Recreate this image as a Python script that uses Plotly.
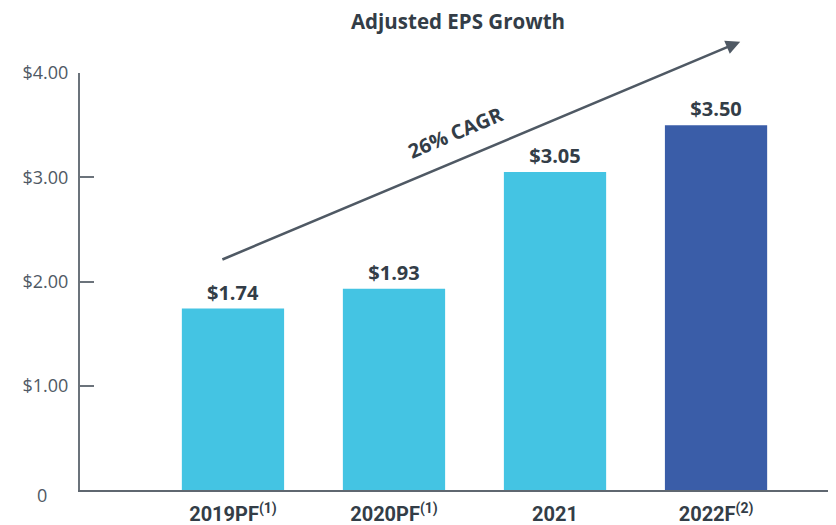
import plotly.graph_objects as go

categories = ["2019PF<sup>(1)</sup>", "2020PF<sup>(1)</sup>", "2021", "2022F<sup>(2)</sup>"]
eps_values = [1.74, 1.93, 3.05, 3.50]
bar_labels = ["$1.74", "$1.93", "$3.05", "$3.50"]
bar_colors = ["#44c4e3", "#44c4e3", "#44c4e3", "#3a5da8"]
tick_vals = [0, 1, 2, 3, 4]
tick_text = ["0", "$1.00", "$2.00", "$3.00", "$4.00"]
title_text = "Adjusted EPS Growth"
cagr_text = "26% CAGR"
x_idx = list(range(len(categories)))

DARK = "#333d47"
GREY = "#4f5964"

fig = go.Figure()
fig.add_trace(go.Bar(
    x=x_idx, y=eps_values, marker=dict(color=bar_colors, line=dict(width=0)),
    width=0.635, text=bar_labels, textposition="outside",
    textfont=dict(family="Open Sans", size=20, color=DARK, weight="bold"),
    cliponaxis=False, hoverinfo="skip",
))

fig.update_layout(
    width=828, height=517,
    margin=dict(l=72, r=0, t=65, b=35),
    plot_bgcolor="white", paper_bgcolor="white",
    showlegend=False,
    title=dict(text="<b>" + title_text + "</b>", x=0.5435, xanchor="center", y=0.974, yanchor="middle",
               font=dict(family="Open Sans", size=20.5, color=DARK)),
    xaxis=dict(range=[-0.95, 3.745], tickvals=x_idx, ticktext=categories,
               showline=True, linecolor="#5f6770", linewidth=2, ticks="",
               showgrid=False, zeroline=False, ticklabelstandoff=5,
               tickfont=dict(family="Roboto", size=20, color=DARK, weight="bold")),
    yaxis=dict(range=[0, 4], tickvals=tick_vals[1:], ticktext=tick_text[1:],
               showline=True, linecolor="#6b737b", linewidth=2,
               ticks="inside", ticklen=14, tickcolor="#6b737b", tickwidth=1.5,
               showgrid=False, zeroline=False, ticklabelstandoff=6,
               tickfont=dict(family="Open Sans", size=18, color=GREY)),
    font=dict(family="Open Sans"),
)

fig.add_annotation(x=0, xref="paper", xshift=-45, y=tick_vals[0], yref="y", yshift=-5,
                   text=tick_text[0], showarrow=False,
                   font=dict(family="Open Sans", size=18, color=GREY))

# CAGR arrow (from first bar region toward last)
fig.add_annotation(x=3.15, y=4.30, ax=-0.075, ay=2.205, xref="x", yref="y", axref="x", ayref="y",
                   text="", showarrow=True, arrowhead=2, arrowsize=1.1, arrowwidth=2.6,
                   arrowcolor="#4f5964")
fig.add_annotation(x=1.38, y=3.43, xref="x", yref="y", text="<b>" + cagr_text + "</b>",
                   showarrow=False, textangle=-23,
                   font=dict(family="Open Sans", size=20, color=DARK))

fig.write_html("out.html")
